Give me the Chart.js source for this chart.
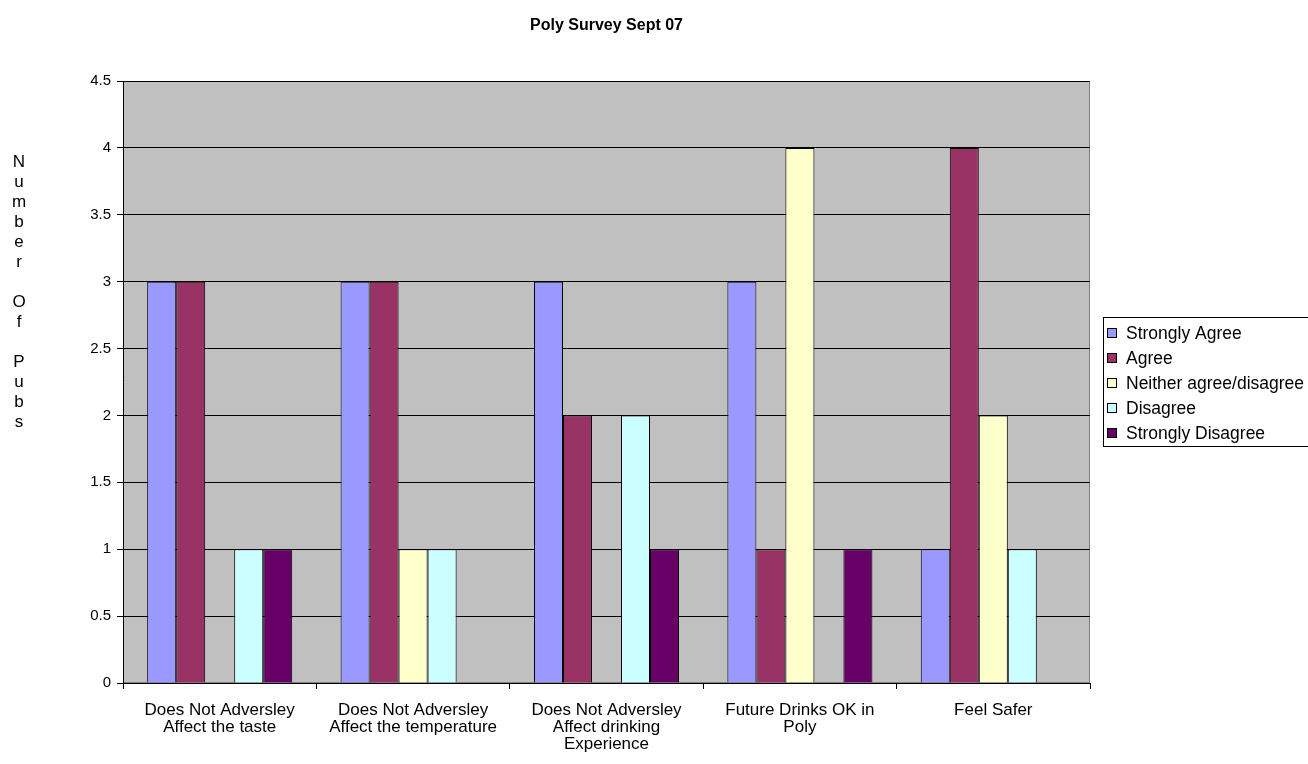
<!DOCTYPE html>
<html>
<head>
<meta charset="utf-8">
<script src="https://cdn.jsdelivr.net/npm/chart.js@4.4.1/dist/chart.umd.min.js"></script>
<style>
  html, body { margin: 0; padding: 0; background: #fff; }
  #wrap { width: 1308px; height: 764px; position: relative; }
</style>
</head>
<body>
<div id="wrap"><canvas id="chart"></canvas></div>
<script>
// data
const categories = [
  ["Does Not Adversley", "Affect the taste"],
  ["Does Not Adversley", "Affect the temperature"],
  ["Does Not Adversley", "Affect drinking", "Experience"],
  ["Future Drinks OK in", "Poly"],
  ["Feel Safer"]
];
const seriesNames = ["Strongly Agree", "Agree", "Neither agree/disagree", "Disagree", "Strongly Disagree"];
const stronglyAgree = [3, 3, 3, 3, 1];
const agree = [3, 3, 2, 1, 4];
const neither = [0, 1, 0, 4, 2];
const disagree = [1, 1, 2, 0, 1];
const stronglyDisagree = [1, 0, 1, 1, 0];
const seriesColors = ["#9999FF", "#993366", "#FFFFCC", "#CCFFFF", "#660066"];

const chartTitle = "Poly Survey Sept 07";
const yTitle = "Number Of Pubs";

const FONT = "Arial, 'Liberation Sans', sans-serif";

const values = [stronglyAgree, agree, neither, disagree, stronglyDisagree];

// grey plot area, stacked y title, title and legend
const decor = {
  id: "decor",
  beforeDraw(chart) {
    const {ctx, chartArea: a} = chart;
    ctx.save();
    ctx.fillStyle = "#C0C0C0";
    ctx.fillRect(a.left, a.top, a.right - a.left, a.bottom - a.top);
    ctx.strokeStyle = "#808080";
    ctx.lineWidth = 1;
    ctx.strokeRect(a.left + 0.5, a.top + 0.5, a.right - a.left - 1, a.bottom - a.top - 1);
    ctx.restore();
  },
  afterDraw(chart) {
    const {ctx, chartArea: a} = chart;
    ctx.save();
    ctx.fillStyle = "#000";
    ctx.textAlign = "center";
    ctx.textBaseline = "middle";
    ctx.font = "bold 16px " + FONT;
    ctx.fillText(chartTitle, (a.left + a.right) / 2, 26);

    // letters stacked one per line, blank line between words
    ctx.font = "17px " + FONT;
    const letters = [];
    yTitle.split(" ").forEach((w, i) => {
      if (i > 0) letters.push("");
      w.split("").forEach(c => letters.push(c));
    });
    letters.forEach((c, i) => ctx.fillText(c, 19, 162 + i * 20));

    // legend
    const lx = 1103, ly = 317, lh = 129;
    ctx.strokeStyle = "#000";
    ctx.lineWidth = 1;
    ctx.fillStyle = "#fff";
    ctx.fillRect(lx, ly, 220, lh);
    ctx.strokeRect(lx + 0.5, ly + 0.5, 220, lh);
    ctx.textAlign = "left";
    ctx.font = "17.5px " + FONT;
    chart.data.datasets.forEach((ds, i) => {
      const y = 333 + i * 25;
      ctx.fillStyle = ds.backgroundColor;
      ctx.fillRect(1107, y - 5, 10, 10);
      ctx.strokeStyle = "#000";
      ctx.strokeRect(1107.5, y - 4.5, 9, 9);
      ctx.fillStyle = "#000";
      ctx.fillText(ds.label, 1126, y + 1);
    });
    ctx.restore();
  }
};

new Chart(document.getElementById("chart"), {
  type: "bar",
  data: {
    labels: categories,
    datasets: seriesNames.map((name, i) => ({
      label: name,
      data: values[i],
      backgroundColor: seriesColors[i],
      borderColor: "#000",
      borderWidth: 1,
      borderSkipped: "bottom"
    }))
  },
  options: {
    responsive: true,
    maintainAspectRatio: false,
    animation: false,
    layout: { padding: { left: 0, right: 218, top: 81, bottom: 0 } },
    datasets: { bar: { barPercentage: 1, categoryPercentage: 0.75 } },
    plugins: {
      legend: { display: false },
      title: { display: false },
      tooltip: { enabled: false }
    },
    scales: {
      x: {
        offset: true,
        grid: { offset: true, drawOnChartArea: false, drawTicks: true, tickLength: 6, color: "#000" },
        border: { display: true, color: "#000" },
        ticks: { color: "#000", font: { family: FONT, size: 17, lineHeight: 1.0 }, padding: 13,
          maxRotation: 0, autoSkip: false },
        afterFit(scale) { scale.height = 81; }
      },
      y: {
        min: 0,
        max: 4.5,
        ticks: { stepSize: 0.5, color: "#000", font: { family: FONT, size: 15 }, padding: 6,
          callback: v => String(v) },
        grid: { color: "#000", lineWidth: 1, drawTicks: true, tickLength: 6 },
        border: { display: true, color: "#000" },
        afterFit(scale) { scale.width = 123; }
      }
    }
  },
  plugins: [decor]
});
</script>
</body>
</html>
